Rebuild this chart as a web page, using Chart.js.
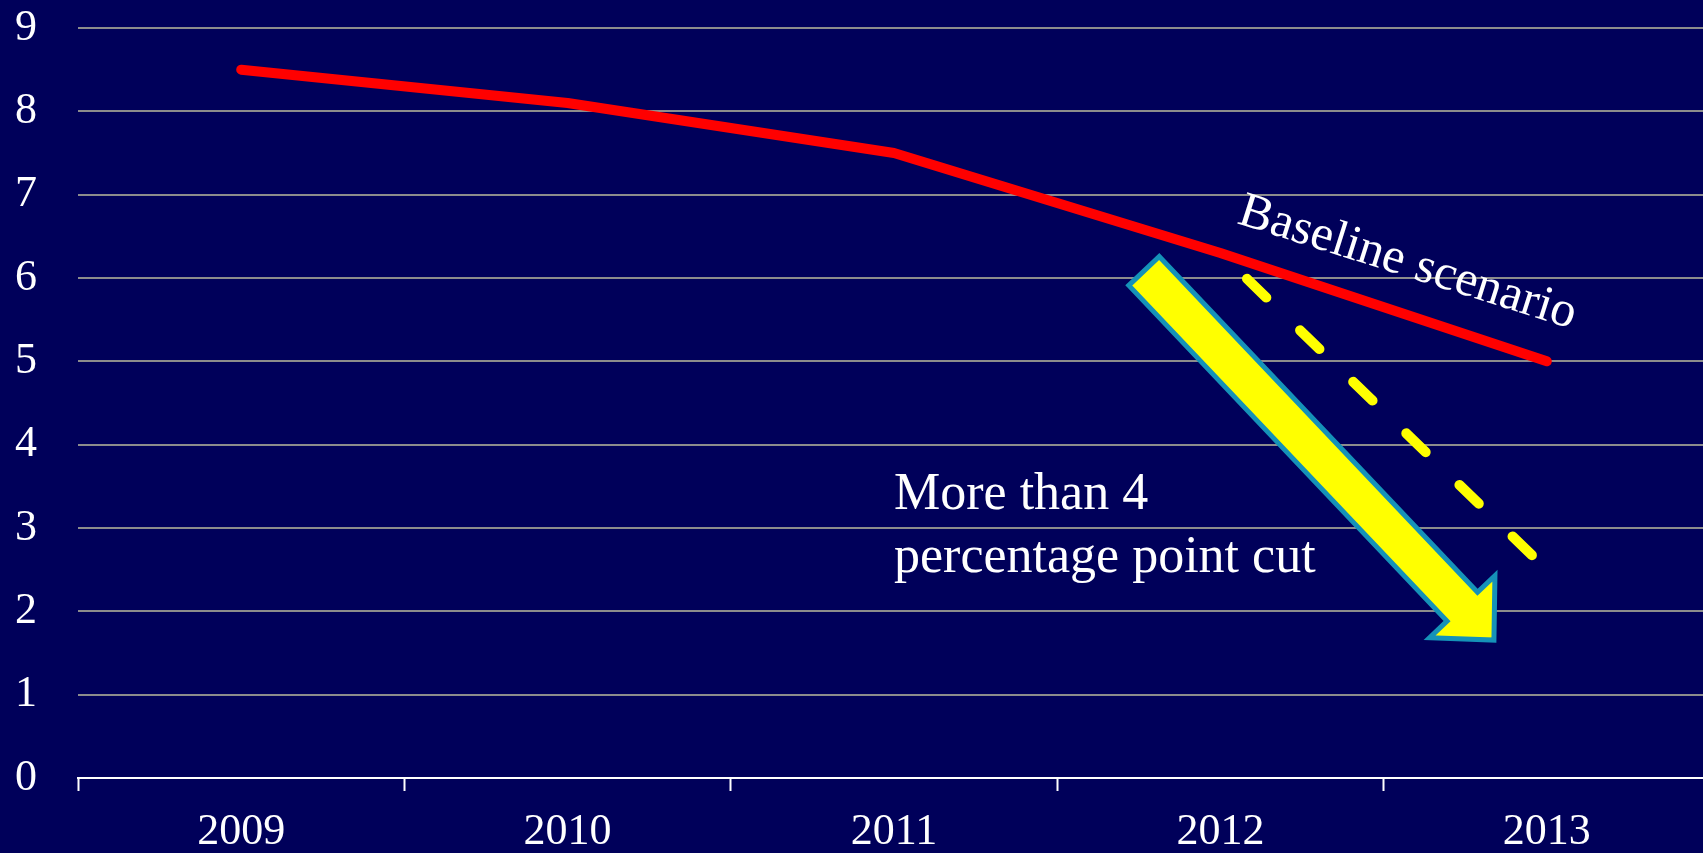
<!DOCTYPE html>
<html>
<head>
<meta charset="utf-8">
<script src="https://cdn.jsdelivr.net/npm/chart.js@4/dist/chart.umd.min.js"></script>
<style>
  html, body { margin: 0; padding: 0; background: #00005a; overflow: hidden; }
  #Cnvs { display: block; }
</style>
</head>
<body>
<canvas id="Cnvs" width="1712" height="853"></canvas>
<script>
// data
var years = ['2009', '2010', '2011', '2012', '2013'];
var baseline = [8.5, 8.1, 7.5, 6.3, 5.0];
var cutPath = [null, null, null, 6.3, 2.5];
var yTicks = [0, 1, 2, 3, 4, 5, 6, 7, 8, 9];

var serif = "'Liberation Serif', 'Times New Roman', serif";

// annotations, placed in data units (x = category index, y = value)
var notes = {
  cutText: { x: 2.0, y: 3.23, lines: ['More than 4', 'percentage point cut'], lineGap: 0.76 },
  baseText: { x: 3.048, y: 6.66, text: 'Baseline scenario', angle: 17.5 },
  arrow: { from: [2.766, 6.085], to: [3.838, 1.655] }
};

var annotate = {
  id: 'annotate',
  beforeDraw: function(chart) {
    var ctx = chart.ctx;
    ctx.save();
    ctx.fillStyle = '#00005a';
    ctx.fillRect(0, 0, chart.width, chart.height);
    ctx.restore();
  },
  afterDatasetsDraw: function(chart) {
    var ctx = chart.ctx;
    var xs = chart.scales.x, ys = chart.scales.y;

    // block arrow
    var a = notes.arrow;
    var tx = xs.getPixelForValue(a.from[0]), ty = ys.getPixelForValue(a.from[1]);
    var px = xs.getPixelForValue(a.to[0]), py = ys.getPixelForValue(a.to[1]);
    var len = Math.hypot(px - tx, py - ty);
    var ux = (px - tx) / len, uy = (py - ty) / len;
    var nx = -uy, ny = ux;
    var w = 21, hw = 45, hl = 46;
    var bx = px - ux * hl, by = py - uy * hl;
    ctx.save();
    ctx.beginPath();
    ctx.moveTo(tx + nx * w, ty + ny * w);
    ctx.lineTo(bx + nx * w, by + ny * w);
    ctx.lineTo(bx + nx * hw, by + ny * hw);
    ctx.lineTo(px, py);
    ctx.lineTo(bx - nx * hw, by - ny * hw);
    ctx.lineTo(bx - nx * w, by - ny * w);
    ctx.lineTo(tx - nx * w, ty - ny * w);
    ctx.closePath();
    ctx.fillStyle = '#ffff00';
    ctx.fill();
    ctx.lineWidth = 5;
    ctx.lineJoin = 'miter';
    ctx.strokeStyle = '#1592b8';
    ctx.stroke();
    ctx.restore();

    // texts
    ctx.save();
    ctx.fillStyle = '#ffffff';
    ctx.textBaseline = 'alphabetic';
    ctx.textAlign = 'left';
    ctx.font = '52px ' + serif;
    var c = notes.cutText;
    c.lines.forEach(function(line, i) {
      ctx.fillText(line, xs.getPixelForValue(c.x), ys.getPixelForValue(c.y - i * c.lineGap));
    });
    var b = notes.baseText;
    ctx.font = '50px ' + serif;
    ctx.translate(xs.getPixelForValue(b.x), ys.getPixelForValue(b.y));
    ctx.rotate(b.angle * Math.PI / 180);
    ctx.fillText(b.text, 0, 0);
    ctx.restore();
  }
};

var chart = new Chart(document.getElementById('Cnvs'), {
  type: 'line',
  data: {
    labels: years,
    datasets: [
      {
        data: cutPath,
        borderColor: '#ffff00',
        borderWidth: 10,
        borderDash: [27, 47],
        borderDashOffset: 37,
        borderCapStyle: 'round',
        pointRadius: 0,
        tension: 0,
        spanGaps: false
      },
      {
        data: baseline,
        borderColor: '#ff0000',
        borderWidth: 10,
        borderCapStyle: 'round',
        borderJoinStyle: 'round',
        pointRadius: 0,
        tension: 0
      }
    ]
  },
  options: {
    responsive: false,
    animation: false,
    layout: { padding: { top: 28, right: 2, left: 0, bottom: 0 } },
    plugins: { legend: { display: false }, tooltip: { enabled: false }, title: { display: false } },
    scales: {
      x: {
        offset: true,
        grid: { offset: true, drawOnChartArea: false, drawTicks: true, tickLength: 13, tickColor: '#ffffff', tickWidth: 2 },
        border: { display: true, color: '#ffffff', width: 2 },
        ticks: { color: '#ffffff', font: { family: serif, size: 44 }, padding: 15, maxRotation: 0 },
        afterFit: function(scale) { scale.height = 75; }
      },
      y: {
        min: 0,
        max: yTicks[yTicks.length - 1],
        afterBuildTicks: function(scale) { scale.ticks = yTicks.map(function(v) { return { value: v }; }); },
        grid: { color: '#8c8c8c', lineWidth: 2, drawTicks: true, tickLength: 41, tickColor: 'rgba(0,0,0,0)' },
        border: { display: false },
        ticks: { color: '#ffffff', font: { family: serif, size: 44 }, padding: 0 },
        afterFit: function(scale) { scale.width = 78; }
      }
    }
  },
  plugins: [annotate]
});
</script>
</body>
</html>
